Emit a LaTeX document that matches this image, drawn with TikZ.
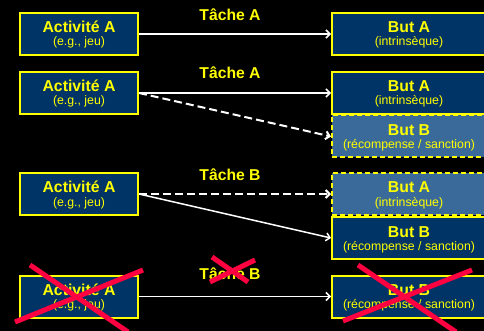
\documentclass[tikz,border=0pt]{standalone}
\usepackage{fontspec}
\setmainfont{Liberation Sans}
\usetikzlibrary{arrows.meta}
\definecolor{navy}{RGB}{0,51,102}
\definecolor{lightnavy}{RGB}{58,106,154}
\definecolor{ylw}{RGB}{255,255,0}
\definecolor{crossred}{RGB}{255,0,64}
\tikzset{
  box/.style={draw=ylw, line width=2pt, fill=navy, minimum height=42pt, inner sep=0pt},
  dbox/.style={box, fill=lightnavy, dash pattern=on 5pt off 3pt},
  lw/.style={minimum width=118pt},
  rw/.style={minimum width=154pt},
  ttl/.style={text=ylw, font=\fontsize{15.8}{16}\selectfont\bfseries, inner sep=0pt},
  sbt/.style={text=ylw, font=\fontsize{12.3}{13}\selectfont, inner sep=0pt},
  tache/.style={text=ylw, font=\fontsize{15.7}{16}\selectfont\bfseries, inner sep=0pt, anchor=base},
  arr/.style={draw=white, line width=1.5pt, -{Straight Barb[length=4pt,width=8pt]}},
  darr/.style={arr, line width=2pt, dash pattern=on 8pt off 4pt},
  cross/.style={draw=crossred, line width=5pt},
}
\newcommand\boxlbl[3]{%
  \node[ttl,anchor=base] (#1t) at ([yshift=1pt]#1.center) {#2};
  \node[sbt,anchor=base] (#1s) at ([yshift=-12pt]#1.center) {#3};}
\begin{document}
\begin{tikzpicture}[x=1pt,y=-1pt]
\fill[black] (0,0) rectangle (484,331);
\useasboundingbox (0,0) rectangle (484,331);
\clip (0,0) rectangle (484,331);
% row 1
\node[box,lw] (a1) at (79,34) {};
\node[box,rw] (g1) at (409,34) {};
\boxlbl{a1}{Activité A}{(e.g., jeu)}
\boxlbl{g1}{But A}{(intrinsèque)}
\draw[arr] (a1.east) -- (g1.west);
\node[tache] (t1) at (230,21) {Tâche A};
% row 2
\node[box,lw] (a2) at (79,93) {};
\node[box,rw] (g2a) at (409,93) {};
\node[dbox,rw] (g2b) at (409,136.5) {};
\boxlbl{a2}{Activité A}{(e.g., jeu)}
\boxlbl{g2a}{But A}{(intrinsèque)}
\boxlbl{g2b}{But B}{(récompense / sanction)}
\draw[arr] (a2.east) -- (g2a.west);
\draw[darr] (a2.east) -- (g2b.west);
\node[tache] (t2) at (230,79) {Tâche A};
% row 3
\node[box,lw] (a3) at (79,194) {};
\node[dbox,rw] (g3a) at (409,194) {};
\node[box,rw] (g3b) at (409,238) {};
\boxlbl{a3}{Activité A}{(e.g., jeu)}
\boxlbl{g3a}{But A}{(intrinsèque)}
\boxlbl{g3b}{But B}{(récompense / sanction)}
\draw[darr] (a3.east) -- (g3a.west);
\draw[arr] (a3.east) -- (g3b.west);
\node[tache] (t3) at (230,181) {Tâche B};
% row 4
\node[box,lw] (a4) at (79,296.5) {};
\node[box,rw] (g4) at (409,296.5) {};
\boxlbl{a4}{Activité A}{(e.g., jeu)}
\boxlbl{g4}{But B}{(récompense / sanction)}
\draw[arr] (a4.east) -- (g4.west);
\node[tache] (t4) at (230,279) {Tâche B};
% crosses
\draw[cross] (30,265) -- (128,332);
\draw[cross] (15,322) -- (143,270);
\draw[cross] (358,265) -- (456,332);
\draw[cross] (343,321) -- (472,270);
\draw[cross] (212,257) -- (248,282);
\draw[cross] (210,282) -- (255,260);
\end{tikzpicture}
\end{document}
